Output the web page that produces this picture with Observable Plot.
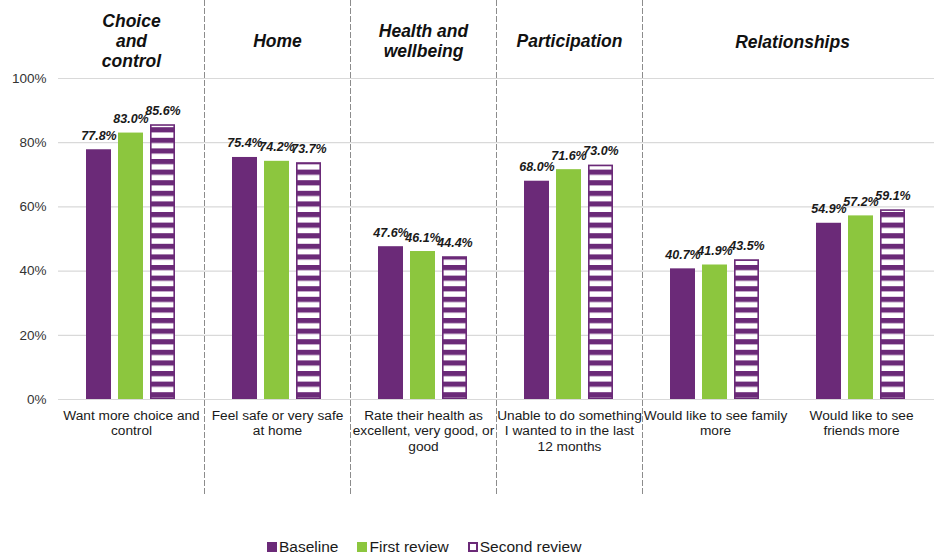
<!DOCTYPE html>
<html>
<head>
<meta charset="utf-8">
<script src="https://cdn.jsdelivr.net/npm/d3@7"></script>
<script src="https://cdn.jsdelivr.net/npm/@observablehq/plot@0.6"></script>
<style>
  html, body { margin: 0; padding: 0; background: #fff; }
  body { width: 940px; font-family: "Liberation Sans", Arial, sans-serif; }
  #legend { display: flex; align-items: center; height: 22px; padding-left: 267px; padding-top: 2px; font-size: 15.5px; color: #1a1a1a; }
  #legend .item { display: flex; align-items: center; margin-right: 19px; }
  #legend .sw { width: 10px; height: 10px; box-sizing: border-box; margin-right: 2px; }
</style>
</head>
<body>
<div id="chart"></div>
<div id="legend"></div>
<script>
// ---- data ----
const categories = [
  "Want more choice and\ncontrol",
  "Feel safe or very safe\nat home",
  "Rate their health as\nexcellent, very good, or\ngood",
  "Unable to do something\nI wanted to in the last\n12 months",
  "Would like to see family\nmore",
  "Would like to see\nfriends more"
];
const seriesNames = ["Baseline", "First review", "Second review"];
const baseline = [77.8, 75.4, 47.6, 68.0, 40.7, 54.9];
const firstReview = [83.0, 74.2, 46.1, 71.6, 41.9, 57.2];
const secondReview = [85.6, 73.7, 44.4, 73.0, 43.5, 59.1];
const headerNames = ["Choice\nand\ncontrol", "Home", "Health and\nwellbeing", "Participation"];
const headerCategory = [categories[0], categories[1], categories[2], categories[3]];
const spanHeaderName = "Relationships";
const spanHeaderCategory = categories[4];
const yTicks = [0, 20, 40, 60, 80, 100];
const dividerCategories = [categories[1], categories[2], categories[3], categories[4]];

const purple = "#6b2a78";
const green = "#8cc63e";
const seriesFill = [purple, green, "url(#stripes)"];

// ---- build rows ----
const seriesValues = [baseline, firstReview, secondReview];
const rows = [];
categories.forEach((c, i) => {
  seriesNames.forEach((s, j) => rows.push({category: c, series: s, value: seriesValues[j][i]}));
});
const headers = headerNames.map((h, i) => ({name: h, category: headerCategory[i]}));

const W = 940, H = 534;
const fontFamily = "'Liberation Sans', Arial, sans-serif";

const plot = Plot.plot({
  width: W,
  height: H,
  marginLeft: 58,
  marginRight: 6,
  marginTop: 78,
  marginBottom: H - 399,
  style: {fontFamily, color: "#262626", background: "white", overflow: "visible"},
  fx: {domain: categories, padding: 0, axis: null},
  x: {domain: seriesNames, paddingInner: 0.21, paddingOuter: 0.82, axis: null},
  y: {domain: [0, 100], axis: null},
  color: {type: "ordinal", domain: seriesNames, range: seriesFill, legend: false},
  marks: [
    Plot.gridY(yTicks, {stroke: "#d9d9d9", strokeOpacity: 1, strokeWidth: 1.2}),
    ...dividerCategories.map(c => Plot.frame({
      anchor: "left", fx: () => c, stroke: "#8c8c8c", strokeOpacity: 1,
      strokeDasharray: "5,3", insetTop: -78, insetBottom: -96
    })),
    Plot.axisY(yTicks, {tickSize: 0, tickPadding: 12, tickFormat: d => d + "%", fontSize: 13.5, fill: "#333", label: null}),
    Plot.axisFx({anchor: "bottom", tickSize: 0, tickPadding: 9, fontSize: 13.7, lineHeight: 1.15, fill: "#1a1a1a", label: null}),
    Plot.barY(rows, {fx: "category", x: "series", y: "value", fill: "series"}),
    Plot.barY(rows.filter(d => d.series === seriesNames[2]), {fx: "category", x: "series", y: "value", fill: "none", stroke: purple, strokeWidth: 1.6, inset: 0.8}),
    Plot.text(rows, {fx: "category", x: "series", y: "value", text: d => d.value.toFixed(1) + "%", dy: -14, fontSize: 12.5, fontWeight: "bold", fontStyle: "italic", fill: "#1a1a1a"}),
    Plot.text(headers, {fx: "category", text: "name", frameAnchor: "top", dy: -38, lineAnchor: "middle", fontSize: 17.5, fontWeight: "bold", fontStyle: "italic", lineHeight: 1.15, fill: "#111"}),
    Plot.text([spanHeaderName], {fx: () => spanHeaderCategory, text: d => d, frameAnchor: "top-right", textAnchor: "middle", dx: 4, dy: -36, lineAnchor: "middle", fontSize: 17.5, fontWeight: "bold", fontStyle: "italic", fill: "#111"})
  ]
});

// stripe pattern for the second review bars
const svg = d3.select(plot.tagName.toLowerCase() === "svg" ? plot : plot.querySelector("svg"));
const defs = svg.insert("defs", ":first-child");
const pat = defs.append("pattern").attr("id", "stripes").attr("patternUnits", "userSpaceOnUse")
  .attr("width", 10).attr("height", 10.6);
pat.append("rect").attr("width", 10).attr("height", 10.6).attr("fill", "#fff");
pat.append("rect").attr("width", 10).attr("height", 5.2).attr("fill", purple);

document.getElementById("chart").appendChild(plot);

// legend
const legend = d3.select("#legend");
seriesNames.forEach((s, i) => {
  const item = legend.append("div").attr("class", "item");
  const sw = item.append("div").attr("class", "sw");
  if (i === 2) sw.style("background", "#fff").style("border", `2px solid ${purple}`);
  else sw.style("background", seriesFill[i]);
  item.append("span").text(s);
});
</script>
</body>
</html>
